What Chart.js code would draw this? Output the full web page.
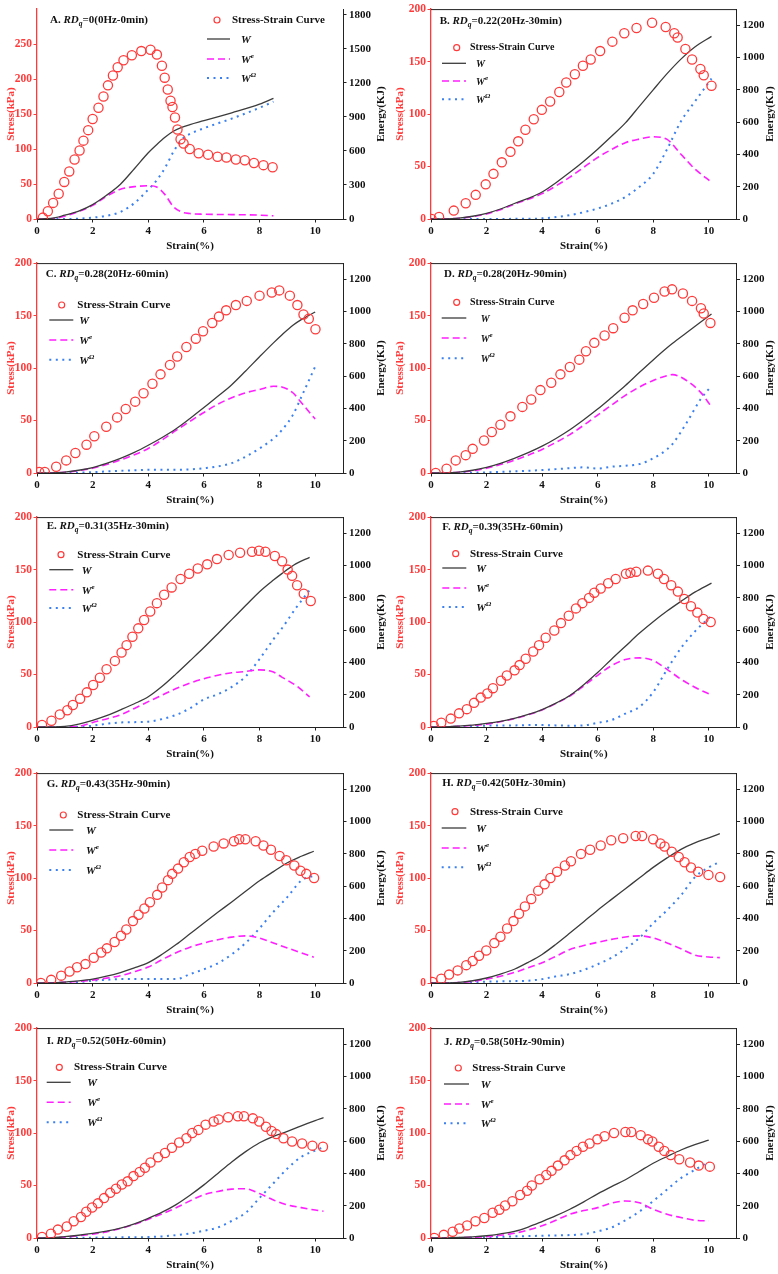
<!DOCTYPE html>
<html lang="en">
<head>
  <meta charset="UTF-8">
  <title>Stress-Strain and Energy Curves</title>
  <script src="https://cdn.jsdelivr.net/npm/chart.js"></script>
  <style>
    body { margin: 0; background: #fff; }
    #wrap { position: relative; width: 778px; height: 1274px; }
    #wrap canvas { position: absolute; }
  </style>
</head>
<body>
  <div id="wrap"></div>

  <script>
    // ---- tick labels ----
    const X_TICKS = [0, 2, 4, 6, 8, 10];
    const STRESS_TICKS_A = [0, 50, 100, 150, 200, 250];
    const ENERGY_TICKS_A = [0, 300, 600, 900, 1200, 1500, 1800];
    const STRESS_TICKS = [0, 50, 100, 150, 200];
    const ENERGY_TICKS = [0, 200, 400, 600, 800, 1000, 1200];

    // ---- stress-strain points (strain %, stress kPa) ----
    const A_strain = [0.21,0.39,0.58,0.78,0.98,1.16,1.35,1.53,1.67,1.84,2.0,2.21,2.39,2.55,2.73,2.9,3.11,3.41,3.75,4.08,4.31,4.49,4.59,4.70,4.80,4.87,4.96,5.05,5.16,5.27,5.49,5.81,6.15,6.49,6.81,7.15,7.47,7.80,8.14,8.47];
    const A_stress = [2,11,23,36,53,68,85,98,112,127,143,159,175,191,205,217,227,234,240,242,235,219,202,185,169,160,145,128,114,108,100,94,92,89,88,85,84,80,77,74];
    const B_strain = [0.02,0.29,0.82,1.25,1.61,1.97,2.25,2.55,2.86,3.14,3.40,3.70,3.99,4.29,4.62,4.87,5.18,5.47,5.75,6.09,6.53,6.96,7.40,7.96,8.45,8.76,8.88,9.16,9.40,9.70,9.82,10.10];
    const B_stress = [0,2,8,15,23,33,43,54,64,74,85,95,104,112,121,130,138,146,152,160,169,177,182,187,183,177,173,162,152,143,137,127];
    const C_strain = [0.08,0.28,0.69,1.05,1.38,1.78,2.06,2.49,2.88,3.19,3.53,3.83,4.15,4.44,4.78,5.04,5.37,5.71,5.97,6.30,6.54,6.80,7.15,7.54,8.00,8.44,8.71,9.09,9.36,9.58,9.77,10.01];
    const C_stress = [1,1,6,12,19,27,35,44,53,61,68,76,85,94,103,111,120,128,135,143,149,155,160,164,169,172,174,169,160,151,147,137];
    const D_strain = [0.17,0.56,0.89,1.25,1.50,1.91,2.19,2.50,2.86,3.29,3.61,3.94,4.33,4.66,5.00,5.34,5.58,5.88,6.25,6.56,6.97,7.26,7.64,8.03,8.41,8.68,9.07,9.40,9.72,9.82,10.06];
    const D_stress = [0,4,12,17,23,31,39,46,54,63,70,79,86,94,101,108,116,124,131,138,148,155,161,167,173,175,171,164,157,152,143];
    const E_strain = [0.18,0.52,0.82,1.09,1.29,1.55,1.79,2.02,2.26,2.50,2.80,3.04,3.22,3.43,3.64,3.85,4.07,4.31,4.57,4.84,5.16,5.47,5.78,6.12,6.47,6.89,7.30,7.73,7.98,8.21,8.55,8.81,9.01,9.17,9.35,9.59,9.84];
    const E_stress = [2,6,12,16,21,27,33,40,47,55,63,71,78,86,94,102,110,118,126,133,141,146,151,155,160,164,166,167,168,167,163,158,150,144,135,127,120];
    const F_strain = [0.10,0.37,0.71,1.01,1.29,1.55,1.79,2.03,2.23,2.52,2.73,3.01,3.19,3.41,3.68,3.89,4.13,4.44,4.68,4.96,5.22,5.45,5.69,5.88,6.11,6.38,6.65,7.02,7.18,7.39,7.81,8.17,8.39,8.65,8.89,9.12,9.36,9.59,9.81,10.07];
    const F_stress = [1,4,8,13,17,23,28,32,37,44,49,54,59,65,72,78,85,92,99,106,113,118,123,128,132,137,141,146,147,148,149,146,141,135,129,122,115,109,103,100];
    const G_strain = [0.14,0.51,0.87,1.17,1.44,1.74,2.04,2.31,2.51,2.79,3.02,3.21,3.45,3.65,3.86,4.06,4.32,4.50,4.71,4.86,5.07,5.28,5.49,5.69,5.94,6.35,6.71,7.08,7.27,7.49,7.86,8.14,8.41,8.72,8.96,9.25,9.47,9.68,9.96];
    const G_stress = [0,3,7,11,15,18,24,29,33,39,45,51,59,65,71,77,84,91,98,104,109,115,120,123,126,130,133,135,137,137,135,131,127,121,117,112,107,104,100];
    const H_strain = [0.05,0.37,0.65,0.96,1.27,1.50,1.73,1.99,2.28,2.50,2.74,2.97,3.17,3.38,3.61,3.86,4.09,4.30,4.54,4.82,5.04,5.40,5.73,6.11,6.49,6.92,7.37,7.60,8.00,8.26,8.41,8.67,8.92,9.13,9.36,9.62,9.99,10.41];
    const H_stress = [1,4,8,12,17,21,26,31,38,44,52,59,66,73,80,88,94,100,106,112,116,123,127,131,136,138,140,140,137,133,130,125,120,115,110,106,103,101];
    const I_strain = [0.18,0.50,0.75,1.07,1.32,1.58,1.77,1.98,2.19,2.41,2.63,2.84,3.05,3.26,3.47,3.69,3.88,4.08,4.35,4.60,4.85,5.11,5.37,5.58,5.80,6.06,6.35,6.53,6.87,7.22,7.44,7.76,7.99,8.23,8.43,8.60,8.86,9.17,9.53,9.90,10.28];
    const I_stress = [1,4,8,11,16,20,25,29,33,38,43,47,51,54,59,63,67,72,77,81,86,91,95,100,103,108,111,113,115,116,116,114,111,106,102,99,95,92,90,88,87];
    const J_strain = [0.12,0.46,0.78,1.02,1.30,1.60,1.92,2.22,2.46,2.67,2.93,3.21,3.46,3.63,3.91,4.15,4.34,4.57,4.81,5.02,5.24,5.47,5.71,5.99,6.25,6.59,7.00,7.21,7.55,7.81,7.97,8.20,8.40,8.63,8.94,9.33,9.64,10.04];
    const J_stress = [0,3,6,9,12,16,19,24,27,31,35,41,45,50,56,60,64,69,74,79,83,87,90,94,97,100,101,101,98,94,92,87,83,79,75,72,69,68];

    // ---- energy curves (strain %, energy KJ): W, W^e, W^Ω ----
    const A_x  = [0,0.5,1,1.5,2,2.5,3,3.5,4,4.3,4.6,4.9,5.2,5.5,6,7,8,8.5];
    const A_W  = [0,5,34,70,127,209,307,443,584,655,720,773,808,832,866,936,1012,1063];
    const A_We = [0,2,25,66,120,200,262,285,293,282,215,110,62,48,42,39,34,28];
    const A_WO = [0,0,0,3,12,28,62,140,260,340,450,590,700,750,800,885,980,1035];
    const B_x  = [0,0.5,1,1.5,2,2.5,3,3.5,4,4.5,5,5.5,6,6.5,7,7.5,8,8.5,9,9.5,10.1];
    const B_W  = [0,1,6,17,35,62,96,128,167,225,289,358,432,512,595,698,800,900,990,1065,1131];
    const B_We = [0,1,4,15,31,58,92,122,157,205,259,320,381,430,473,495,509,493,401,310,228];
    const B_WO = [0,0,0,0,0,0,1,1,4,12,24,42,65,95,137,198,279,432,605,727,870];
    const C_x  = [0,0.5,1,1.5,2,2.5,3,3.5,4,4.5,5,5.5,6,6.5,7,7.5,8,8.5,8.8,9.2,9.5,10];
    const C_W  = [0,1,6,17,34,60,91,128,172,220,274,338,405,475,547,632,720,806,855,915,950,997];
    const C_We = [0,1,5,15,30,53,81,113,152,205,264,320,375,426,466,497,517,537,533,497,436,334];
    const C_WO = [0,0,0,2,5,10,14,17,20,20,20,22,30,41,61,101,152,213,265,360,470,659];
    const D_x  = [0,0.5,1,1.5,2,2.5,3,3.5,4,4.5,5,5.5,6,6.5,7,7.5,8,8.5,8.7,9.2,9.7,10.1];
    const D_W  = [0,1,6,17,35,60,91,126,166,214,268,330,396,468,542,622,700,775,803,868,933,985];
    const D_We = [0,1,5,14,30,52,79,110,146,190,238,296,359,420,481,532,573,603,609,573,501,410];
    const D_WO = [0,0,0,2,4,7,10,14,18,24,30,35,28,39,45,55,91,146,180,310,455,540];
    const E_x  = [0,0.5,1,1.5,2,2.5,3,3.5,4,4.5,5,5.5,6,6.5,7,7.5,8,8.5,8.8,9.3,9.8];
    const E_W  = [0,1,4,18,41,70,106,144,187,252,329,410,492,578,665,752,838,910,950,1010,1051];
    const E_We = [0,0,1,4,28,50,75,115,157,198,238,272,299,320,336,344,354,340,309,258,187];
    const E_WO = [0,0,0,1,8,20,28,30,33,49,75,116,171,203,248,313,421,543,610,735,848];
    const F_x  = [0,0.5,1,1.5,2,2.5,3,3.5,4,4.5,5,5.5,6,6.5,7,7.5,8,8.5,9,9.5,10.1];
    const F_W  = [0,1,6,12,22,35,53,78,108,148,195,262,337,420,500,580,652,718,778,835,891];
    const F_We = [0,1,4,10,18,33,52,76,106,146,192,255,320,380,418,428,412,357,296,246,198];
    const F_WO = [0,0,2,5,8,10,10,12,12,10,8,10,26,43,83,124,215,357,489,591,690];
    const G_x  = [0,0.5,1,1.5,2,2.5,3,3.5,4,4.5,5,5.5,6,6.5,7,7.5,8,8.5,9,9.5,9.95];
    const G_W  = [0,1,6,13,24,42,65,93,126,178,238,305,372,438,502,568,633,690,745,785,816];
    const G_We = [0,1,5,10,18,30,45,70,99,145,187,222,248,268,284,292,278,248,217,187,160];
    const G_WO = [0,0,1,5,14,20,24,24,24,24,24,55,85,122,177,248,339,441,532,634,664];
    const H_x  = [0,0.5,1,1.5,2,2.5,3,3.5,4,4.5,5,5.5,6,6.5,7,7.5,8,8.5,9,9.5,10,10.4];
    const H_W  = [0,1,4,14,31,55,85,128,177,240,309,380,451,518,584,650,716,775,828,868,899,925];
    const H_We = [0,1,3,10,24,42,65,95,126,166,207,232,252,270,285,292,279,248,212,173,161,157];
    const H_WO = [0,0,1,4,8,10,12,14,24,41,55,81,116,157,212,279,370,451,543,655,716,750];
    const I_x  = [0,0.5,1,1.5,2,2.5,3,3.5,4,4.5,5,5.5,6,6.5,7,7.5,8,8.5,9,9.5,10,10.3];
    const I_W  = [0,1,8,17,28,42,61,88,122,160,207,265,329,400,471,535,590,630,660,695,727,745];
    const I_We = [0,1,6,14,24,38,59,85,116,150,187,230,268,288,303,305,275,235,205,188,173,166];
    const I_WO = [0,0,0,1,2,3,4,5,6,10,18,28,45,65,106,156,248,339,430,502,542,562];
    const J_x  = [0,0.5,1,1.5,2,2.5,3,3.5,4,4.5,5,5.5,6,6.5,7,7.5,8,8.5,9,9.5,10];
    const J_W  = [0,1,3,7,14,26,41,68,102,138,178,224,273,318,361,412,463,505,545,578,606];
    const J_We = [0,0,2,4,8,17,29,50,76,110,147,170,188,216,229,218,178,147,127,110,106];
    const J_WO = [0,0,0,1,4,7,10,12,14,16,18,24,41,65,110,163,229,300,371,422,473];

    const panels = [
      { id: 'A', ratio: '=0(0Hz-0min)',      strain: A_strain, stress: A_stress, ex: A_x, W: A_W, We: A_We, WO: A_WO },
      { id: 'B', ratio: '=0.22(20Hz-30min)', strain: B_strain, stress: B_stress, ex: B_x, W: B_W, We: B_We, WO: B_WO },
      { id: 'C', ratio: '=0.28(20Hz-60min)', strain: C_strain, stress: C_stress, ex: C_x, W: C_W, We: C_We, WO: C_WO },
      { id: 'D', ratio: '=0.28(20Hz-90min)', strain: D_strain, stress: D_stress, ex: D_x, W: D_W, We: D_We, WO: D_WO },
      { id: 'E', ratio: '=0.31(35Hz-30min)', strain: E_strain, stress: E_stress, ex: E_x, W: E_W, We: E_We, WO: E_WO },
      { id: 'F', ratio: '=0.39(35Hz-60min)', strain: F_strain, stress: F_stress, ex: F_x, W: F_W, We: F_We, WO: F_WO },
      { id: 'G', ratio: '=0.43(35Hz-90min)', strain: G_strain, stress: G_stress, ex: G_x, W: G_W, We: G_We, WO: G_WO },
      { id: 'H', ratio: '=0.42(50Hz-30min)', strain: H_strain, stress: H_stress, ex: H_x, W: H_W, We: H_We, WO: H_WO },
      { id: 'I', ratio: '=0.52(50Hz-60min)', strain: I_strain, stress: I_stress, ex: I_x, W: I_W, We: I_We, WO: I_WO },
      { id: 'J', ratio: '=0.58(50Hz-90min)', strain: J_strain, stress: J_stress, ex: J_x, W: J_W, We: J_We, WO: J_WO }
    ];

    // ---- layout (canvas-relative pixels) ----
    const ROW_TOP = [0, 254, 508, 764, 1019];
    const layout = {
      A: { title: [50, 20],   leg: { fs: 11, cx: 217, tx: 232, x0: 207, x1: 230, wx: 241, rows: [20, 39, 59, 78] } },
      B: { title: [50.7, 21], leg: { fs: 10, cx: 67.7, tx: 81, x0: 53, x1: 77, wx: 87, rows: [47.7, 63.3, 81, 99.3] } },
      C: { title: [45.7, 20], leg: { fs: 11, cx: 61.7, tx: 77.3, x0: 49.3, x1: 73.3, wx: 79.3, rows: [51, 66, 86, 105.7] } },
      D: { title: [55, 20],   leg: { fs: 10, cx: 67.7, tx: 81, x0: 52.7, x1: 77.3, wx: 91.7, rows: [48.3, 64, 84, 104.3] } },
      E: { title: [46.7, 18], leg: { fs: 11, cx: 61, tx: 77.3, x0: 49.3, x1: 73.3, wx: 81.7, rows: [46.7, 61.7, 81.7, 100] } },
      F: { title: [53.3, 19], leg: { fs: 11, cx: 66.7, tx: 81, x0: 53.3, x1: 77.3, wx: 87.3, rows: [45.7, 60, 80, 99] } },
      G: { title: [46.7, 20], leg: { fs: 11, cx: 63.3, tx: 77.3, x0: 49.3, x1: 73.3, wx: 86, rows: [51, 66, 86, 106] } },
      H: { title: [53.3, 19], leg: { fs: 11, cx: 66, tx: 81, x0: 52.7, x1: 77.3, wx: 87.3, rows: [47.7, 64, 84, 103.3] } },
      I: { title: [46.7, 22], leg: { fs: 11, cx: 59.3, tx: 74, x0: 46.7, x1: 70.7, wx: 87.3, rows: [48.3, 63.3, 83.3, 103.3] } },
      J: { title: [55, 23],   leg: { fs: 11, cx: 69.3, tx: 83.3, x0: 55, x1: 80, wx: 91.7, rows: [49, 65, 85, 104.3] } }
    };

    const SERIF = "'Liberation Serif', 'Times New Roman', serif";
    const RED = '#ff3a3a';
    const INK = '#222222';
    Chart.defaults.font.family = SERIF;
    Chart.defaults.font.weight = 'bold';

    const zip = (xs, ys) => xs.map((x, i) => ({ x: x, y: ys[i] }));
    const useTicks = list => scale => { scale.ticks = list.map(v => ({ value: v })); };
    const plain = v => String(v);

    function drawTitle(ctx, x, y, letter, rest) {
      ctx.textAlign = 'left';
      ctx.textBaseline = 'middle';
      ctx.fillStyle = '#111';
      ctx.font = `bold 11px ${SERIF}`;
      ctx.fillText(letter + '. ', x, y);
      x += ctx.measureText(letter + '. ').width;
      ctx.font = `italic bold 11px ${SERIF}`;
      ctx.fillText('RD', x, y);
      x += ctx.measureText('RD').width;
      ctx.font = `italic bold 7.5px ${SERIF}`;
      ctx.fillText('q', x, y + 4);
      x += ctx.measureText('q').width;
      ctx.font = `bold 11px ${SERIF}`;
      ctx.fillText(rest, x, y);
    }

    function drawLegend(ctx, chart, L) {
      const ds = chart.data.datasets;
      ctx.textAlign = 'left';
      ctx.textBaseline = 'middle';
      ctx.strokeStyle = ds[0].borderColor;
      ctx.lineWidth = 1.2;
      ctx.beginPath();
      ctx.arc(L.cx, L.rows[0], 3, 0, Math.PI * 2);
      ctx.stroke();
      ctx.fillStyle = '#111';
      ctx.font = `bold ${L.fs}px ${SERIF}`;
      ctx.fillText(ds[0].label, L.tx, L.rows[0]);
      for (let i = 1; i < 4; i++) {
        const d = ds[i];
        const y = L.rows[i];
        ctx.setLineDash(d.borderDash || []);
        ctx.strokeStyle = d.borderColor;
        ctx.lineWidth = d.borderWidth;
        ctx.beginPath();
        ctx.moveTo(L.x0, y);
        ctx.lineTo(L.x1, y);
        ctx.stroke();
        ctx.setLineDash([]);
        const [base, sup] = d.label.split('^');
        ctx.font = `italic bold ${L.fs}px ${SERIF}`;
        ctx.fillText(base, L.wx, y + 1);
        if (sup) {
          const w = ctx.measureText(base).width;
          ctx.font = `italic bold 7px ${SERIF}`;
          ctx.fillText(sup, L.wx + w, y - 3);
        }
      }
    }

    const wrap = document.getElementById('wrap');

    panels.forEach((p, idx) => {
      const col = idx % 2;
      const row = Math.floor(idx / 2);
      const isA = p.id === 'A';
      const lay = layout[p.id];
      const leftW = col === 0 ? 37 : 42;
      const rightW = col === 0 ? 46 : 41.5;

      const canvas = document.createElement('canvas');
      canvas.width = 389;
      canvas.height = 255;
      canvas.style.left = (col * 389) + 'px';
      canvas.style.top = ROW_TOP[row] + 'px';
      wrap.appendChild(canvas);

      const decor = {
        id: 'decor' + p.id,
        afterDraw(chart) {
          const ctx = chart.ctx;
          const area = chart.chartArea;
          ctx.save();
          if (!isA) {
            ctx.strokeStyle = INK;
            ctx.lineWidth = 1;
            ctx.beginPath();
            ctx.moveTo(area.left, area.top + 0.5);
            ctx.lineTo(area.right, area.top + 0.5);
            ctx.stroke();
          }
          // right axis title, reading bottom to top
          ctx.translate(381, (area.top + area.bottom) / 2);
          ctx.rotate(-Math.PI / 2);
          ctx.textAlign = 'center';
          ctx.textBaseline = 'middle';
          ctx.fillStyle = '#111';
          ctx.font = `bold 11px ${SERIF}`;
          ctx.fillText('Energy(KJ)', 0, 0);
          ctx.restore();
          ctx.save();
          drawTitle(ctx, lay.title[0], lay.title[1], p.id, p.ratio);
          drawLegend(ctx, chart, lay.leg);
          ctx.restore();
        }
      };

      new Chart(canvas, {
        type: 'scatter',
        data: {
          datasets: [
            {
              label: 'Stress-Strain Curve',
              data: zip(p.strain, p.stress),
              yAxisID: 'y',
              pointStyle: 'circle',
              pointRadius: 4.6,
              pointBorderWidth: 1.3,
              borderColor: RED,
              backgroundColor: 'rgba(0,0,0,0)',
              order: 0
            },
            {
              label: 'W',
              data: zip(p.ex, p.W),
              yAxisID: 'y1',
              showLine: true,
              pointRadius: 0,
              borderColor: '#3c3c3c',
              borderWidth: 1.3,
              cubicInterpolationMode: 'monotone',
              order: 1
            },
            {
              label: 'W^e',
              data: zip(p.ex, p.We),
              yAxisID: 'y1',
              showLine: true,
              pointRadius: 0,
              borderColor: '#ff1eff',
              borderWidth: 1.6,
              borderDash: [7, 4],
              cubicInterpolationMode: 'monotone',
              order: 2
            },
            {
              label: 'W^Ω',
              data: zip(p.ex, p.WO),
              yAxisID: 'y1',
              showLine: true,
              pointRadius: 0,
              borderColor: '#3a80f0',
              borderWidth: 2,
              borderDash: [2, 4.5],
              cubicInterpolationMode: 'monotone',
              order: 3
            }
          ]
        },
        options: {
          responsive: false,
          animation: false,
          events: [],
          layout: { padding: { top: isA ? 0 : 6, left: 0, right: 0, bottom: 0 } },
          plugins: {
            legend: { display: false },
            tooltip: { enabled: false }
          },
          scales: {
            x: {
              type: 'linear',
              min: 0,
              max: 11,
              afterBuildTicks: useTicks(X_TICKS),
              afterFit: s => { s.height = 36; },
              ticks: { callback: plain, color: '#111', padding: 2, font: { size: 11, weight: 'bold' } },
              grid: { display: true, drawOnChartArea: false, tickLength: 3.5, color: INK },
              border: { color: INK, width: 1 },
              title: {
                display: true, text: 'Strain(%)', color: '#111',
                font: { size: 11, weight: 'bold' }, padding: { top: 0, bottom: 2 }
              }
            },
            y: {
              position: 'left',
              min: 0,
              max: isA ? 300 : 200,
              afterBuildTicks: useTicks(isA ? STRESS_TICKS_A : STRESS_TICKS),
              afterFit: s => { s.width = leftW; },
              ticks: { callback: plain, color: RED, padding: 1.5, font: { size: 11.5, weight: 'bold' } },
              grid: { display: true, drawOnChartArea: false, tickLength: 3.5, color: RED },
              border: { color: RED, width: 1.3 },
              title: {
                display: true, text: 'Stress(kPa)', color: RED,
                font: { size: 11, weight: 'bold' }, padding: { top: 5, bottom: 0 }
              }
            },
            y1: {
              position: 'right',
              min: 0,
              max: isA ? 1850 : 1300,
              afterBuildTicks: useTicks(isA ? ENERGY_TICKS_A : ENERGY_TICKS),
              afterFit: s => { s.width = rightW; },
              ticks: { callback: plain, color: '#111', padding: 2.5, font: { size: 11, weight: 'bold' } },
              grid: { display: true, drawOnChartArea: false, tickLength: 3.5, color: INK },
              border: { color: INK, width: 1 }
            }
          }
        },
        plugins: [decor]
      });
    });
  </script>
</body>
</html>
